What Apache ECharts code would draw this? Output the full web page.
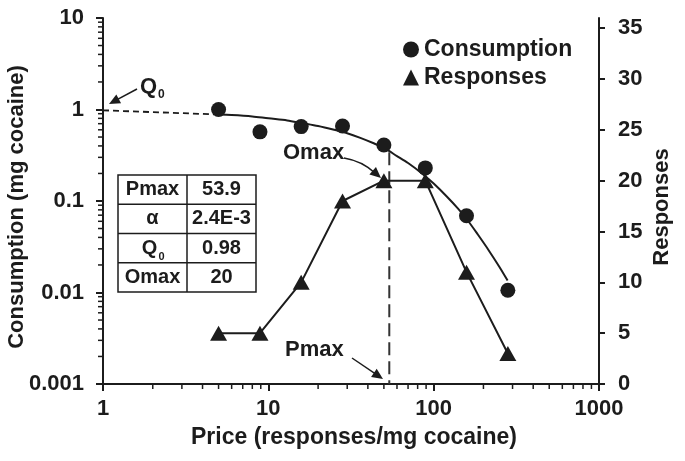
<!DOCTYPE html>
<html><head><meta charset="utf-8">
<script src="https://cdn.jsdelivr.net/npm/echarts@6/dist/echarts.min.js"></script>
<style>html,body{margin:0;padding:0;background:#fff}#c{width:685px;height:461px}</style>
</head><body><div id="c"></div>
<script>
// ---- data ----
const price = [5, 8.9, 15.8, 28.1, 50, 89, 158, 281];
const consumption = [1.0, 0.57, 0.65, 0.66, 0.41, 0.23, 0.069, 0.0106];
const responses = [5, 5, 10, 18, 20, 20, 11, 3];
// fitted demand curve
const curvePrice = [5, 6, 8, 10, 13, 16, 20, 25, 30, 36, 43, 50, 60, 70, 85, 100, 120, 140, 160, 185, 215, 250, 280];
const curveQ = [0.88, 0.87, 0.84, 0.80, 0.76, 0.71, 0.66, 0.60, 0.55, 0.49, 0.43, 0.38, 0.31, 0.26, 0.20, 0.155, 0.112, 0.083, 0.062, 0.043, 0.029, 0.019, 0.0135];
const q0LinePrice = [1, 4.7];
const q0LineQ = [0.98, 0.885];
const pmaxLinePrice = [53.9, 53.9];
const pmaxLineQ = [0.34, 0.001];
const xTicks = [1, 10, 100, 1000];
const xMinor = [2,3,4,5,6,7,8,9,20,30,40,50,60,70,80,90,200,300,400,500,600,700,800,900];
const yTicks = [0.001, 0.01, 0.1, 1, 10];
const yMinor = [0.002,0.003,0.004,0.005,0.006,0.007,0.008,0.009,0.02,0.03,0.04,0.05,0.06,0.07,0.08,0.09,0.2,0.3,0.4,0.5,0.6,0.7,0.8,0.9,2,3,4,5,6,7,8,9];
const rightTicks = [0, 5, 10, 15, 20, 25, 30, 35];
const tableLabels = ['Pmax', 'α', 'Q', 'Omax'];
const tableValues = ['53.9', '2.4E-3', '0.98', '20'];

const FONT = "'Liberation Sans', Arial, sans-serif";
const INK = '#1c1c1c';
const chart = echarts.init(document.getElementById('c'), null, {renderer: 'canvas'});

function fmt(v) { return String(Number(Number(v).toPrecision(4))); }

function arrowHead(x1, y1, x2, y2, len, half) {
  const dx = x2 - x1, dy = y2 - y1, d = Math.hypot(dx, dy);
  const ux = dx / d, uy = dy / d, nx = -uy, ny = ux;
  return {
    type: 'polygon', z: 10,
    shape: {points: [[x2, y2], [x2 - ux * len + nx * half, y2 - uy * len + ny * half], [x2 - ux * len - nx * half, y2 - uy * len - ny * half]]},
    style: {fill: INK}
  };
}
function arrow(x1, y1, x2, y2) {
  const dx = x2 - x1, dy = y2 - y1, d = Math.hypot(dx, dy);
  return [
    {type: 'line', z: 10, shape: {x1, y1, x2: x2 - dx / d * 6, y2: y2 - dy / d * 6}, style: {stroke: INK, lineWidth: 1.5}},
    arrowHead(x1, y1, x2, y2, 11, 5)
  ];
}
function txt(x, y, s, size, align) {
  return {type: 'text', z: 10, x, y, style: {text: s, font: `bold ${size}px ${FONT}`, fill: INK, align: align || 'left', verticalAlign: 'middle'}};
}

// table graphic
function buildTable() {
  const L = 118, R = 256, T = 175, B = 292, C = 187;
  const rh = (B - T) / tableLabels.length;
  const els = [{type: 'rect', z: 10, shape: {x: L, y: T, width: R - L, height: B - T}, style: {fill: '#fff', stroke: INK, lineWidth: 1.5}}];
  els.push({type: 'line', z: 10, shape: {x1: C, y1: T, x2: C, y2: B}, style: {stroke: INK, lineWidth: 1.5}});
  for (let i = 1; i < tableLabels.length; i++) {
    els.push({type: 'line', z: 10, shape: {x1: L, y1: T + rh * i, x2: R, y2: T + rh * i}, style: {stroke: INK, lineWidth: 1.5}});
  }
  tableLabels.forEach((lab, i) => {
    const cy = T + rh * (i + 0.5);
    if (lab === 'Q') {
      els.push(txt((L + C) / 2 - 3, cy, 'Q', 20, 'center'));
      els.push(txt((L + C) / 2 + 6, cy + 9, '0', 11, 'left'));
    } else {
      els.push(txt((L + C) / 2, cy, lab, 20, 'center'));
    }
    els.push(txt((C + R) / 2, cy, tableValues[i], 20, 'center'));
  });
  return els;
}

const tickSeries = (data, horiz) => ({
  type: 'custom', silent: true, clip: false, z: 5,
  xAxisIndex: 0, yAxisIndex: 0,
  data: data.map(v => horiz ? [v, 0.001] : [1, v]),
  renderItem(params, api) {
    const p = api.coord([api.value(0), api.value(1)]);
    return horiz
      ? {type: 'line', shape: {x1: p[0], y1: p[1], x2: p[0], y2: p[1] + 5}, style: {stroke: INK, lineWidth: 1.5}}
      : {type: 'line', shape: {x1: p[0], y1: p[1], x2: p[0] - 5, y2: p[1]}, style: {stroke: INK, lineWidth: 1.5}};
  }
});

const axisLine = {show: true, lineStyle: {color: INK, width: 2}};
const labelStyle = {color: INK, fontSize: 22, fontWeight: 'bold', fontFamily: FONT};
const titleStyle = Object.assign({}, labelStyle, {padding: [0, 12, 0, 0]});

chart.setOption({
  animation: false,
  backgroundColor: '#fff',
  textStyle: {fontFamily: FONT},
  grid: {left: 103, right: 86, top: 18, bottom: 77, containLabel: false, outerBoundsMode: 'none'},
  legend: {
    orient: 'vertical', left: 398, top: 33, itemGap: 5, itemWidth: 16, itemHeight: 16,
    textStyle: {color: INK, fontSize: 23, fontWeight: 'bold', fontFamily: FONT, lineHeight: 22, padding: [0, 0, 0, 0]},
    data: [{name: 'Consumption', icon: 'circle'}, {name: 'Responses', icon: 'triangle'}],
    selectedMode: false
  },
  xAxis: {
    type: 'log', logBase: 10, min: 1, max: 1000,
    name: 'Price (responses/mg cocaine)', nameLocation: 'middle', nameGap: 42, nameMoveOverlap: false,
    nameTextStyle: Object.assign({}, labelStyle, {fontSize: 23, padding: [0, 0, 0, 6]}),
    axisLine, axisTick: {show: true, length: 7, lineStyle: {color: INK, width: 2}},
    axisLabel: Object.assign({margin: 14, formatter: fmt}, labelStyle),
    splitLine: {show: false}
  },
  yAxis: [{
    type: 'log', logBase: 10, min: 0.001, max: 10,
    name: 'Consumption (mg cocaine)', nameLocation: 'middle', nameGap: 75, nameMoveOverlap: false,
    nameTextStyle: titleStyle,
    axisLine, axisTick: {show: true, length: 7, lineStyle: {color: INK, width: 2}},
    axisLabel: Object.assign({margin: 19, formatter: fmt}, labelStyle),
    splitLine: {show: false}
  }, {
    type: 'value', min: 0, max: 36, interval: 5, position: 'right',
    name: 'Responses', nameLocation: 'middle', nameGap: 52, nameRotate: 90, nameMoveOverlap: false,
    nameTextStyle: titleStyle,
    axisLine, axisTick: {show: true, length: 6, lineStyle: {color: INK, width: 2}, customValues: rightTicks},
    axisLabel: Object.assign({margin: 19, customValues: rightTicks}, labelStyle),
    splitLine: {show: false}
  }],
  series: [
    tickSeries(xMinor, true),
    tickSeries(yMinor, false),
    {
      name: 'fit', type: 'line', smooth: 0.3, showSymbol: false, silent: true,
      xAxisIndex: 0, yAxisIndex: 0,
      data: curvePrice.map((p, i) => [p, curveQ[i]]),
      lineStyle: {color: INK, width: 2}, itemStyle: {color: INK}, z: 3
    },
    {
      name: 'q0', type: 'line', showSymbol: false, silent: true,
      xAxisIndex: 0, yAxisIndex: 0,
      data: q0LinePrice.map((p, i) => [p, q0LineQ[i]]),
      lineStyle: {color: INK, width: 1.8, type: [6, 4]}, z: 3
    },
    {
      name: 'pmax', type: 'line', showSymbol: false, silent: true,
      xAxisIndex: 0, yAxisIndex: 0,
      data: pmaxLinePrice.map((p, i) => [p, pmaxLineQ[i]]),
      lineStyle: {color: '#333', width: 2, type: [13, 6]}, z: 3
    },
    {
      name: 'Consumption', type: 'scatter', symbol: 'circle', symbolSize: 15,
      xAxisIndex: 0, yAxisIndex: 0,
      data: price.map((p, i) => [p, consumption[i]]),
      itemStyle: {color: INK, opacity: 1}, z: 4
    },
    {
      name: 'Responses', type: 'line', symbol: 'triangle', symbolSize: [17, 15], showSymbol: true,
      xAxisIndex: 0, yAxisIndex: 1,
      data: price.map((p, i) => [p, responses[i]]),
      lineStyle: {color: INK, width: 2}, itemStyle: {color: INK, opacity: 1}, z: 4
    }
  ],
  graphic: [].concat(
    buildTable(),
    [txt(140, 87, 'Q', 22), txt(158, 95, '0', 12)],
    arrow(137, 89, 109, 104),
    [txt(283, 153, 'Omax', 22)],
    [{type: 'bezierCurve', z: 10, shape: {x1: 344, y1: 158, x2: 375, y2: 173, cpx1: 362, cpy1: 161}, style: {stroke: INK, lineWidth: 1.5, fill: null}},
     arrowHead(366, 165, 381, 178, 11, 5)],
    [txt(285, 350, 'Pmax', 22)],
    arrow(352, 358, 383, 379)
  )
});
</script></body></html>
